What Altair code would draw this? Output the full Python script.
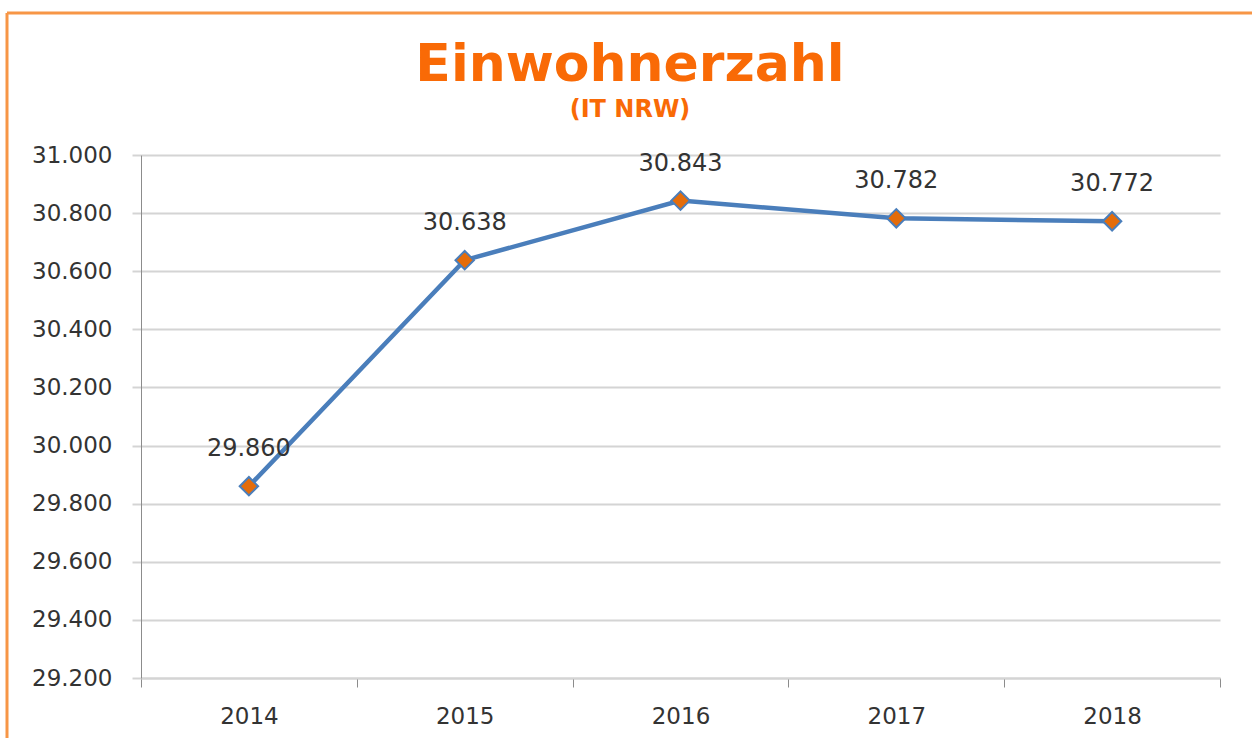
import altair as alt
import pandas as pd

years = ["2014", "2015", "2016", "2017", "2018"]
population = [29860, 30638, 30843, 30782, 30772]
y_ticks = [29200, 29400, 29600, 29800, 30000, 30200, 30400, 30600, 30800, 31000]
title_text = "Einwohnerzahl"
subtitle_text = "(IT NRW)"

df = pd.DataFrame({"Jahr": years, "Einwohner": population})

FONT = "DejaVu Sans"
ORANGE = "#F96A06"
BORDER = "#F79646"

x_enc = alt.X(
    "Jahr:O",
    scale=alt.Scale(type="band", paddingInner=0, paddingOuter=0),
    bandPosition=0.5,
    axis=alt.Axis(
        title=None, labelAngle=0, tickBand="extent", grid=False,
        domainColor="#D4D4D4", domainWidth=2, tickColor="#8C8C8C", tickWidth=1,
        tickSize=9, labelPadding=18, labelFontSize=23, labelFont=FONT,
        labelColor="#333333",
    ),
)
y_enc = alt.Y(
    "Einwohner:Q",
    scale=alt.Scale(domain=[29200, 31000], nice=False, zero=False),
    axis=alt.Axis(
        title=None, values=y_ticks, grid=True, gridColor="#D4D4D4", gridWidth=2,
        domainColor="#8C8C8C", domainWidth=1, tickColor="#D4D4D4", tickWidth=2,
        tickSize=9, labelPadding=20, labelFontSize=23, labelFont=FONT,
        labelColor="#333333",
        labelExpr="replace(format(datum.value, ',.0f'), ',', '.')",
    ),
)

base = alt.Chart(df)

line = base.mark_line(color="#4A7EBB", strokeWidth=4.5).encode(x=x_enc, y=y_enc)
points = base.mark_point(
    shape="diamond", filled=True, fill="#E46C0A", stroke="#4A7EBB",
    strokeWidth=2, size=340, opacity=1,
).encode(x=x_enc, y=y_enc)
labels = base.transform_calculate(
    lab="replace(format(datum.Einwohner, ',.0f'), ',', '.')"
).mark_text(
    font=FONT, fontSize=24, color="#333333", dy=-37, baseline="middle",
).encode(x=x_enc, y=y_enc, text="lab:N")

title_df = pd.DataFrame({"t": [title_text]})
subtitle_df = pd.DataFrame({"t": [subtitle_text]})
title_mark = alt.Chart(title_df).mark_text(
    font=FONT, fontSize=52, fontWeight="bold", color=ORANGE,
    align="center", baseline="alphabetic",
).encode(x=alt.value(489), y=alt.value(-74), text="t:N")
subtitle_mark = alt.Chart(subtitle_df).mark_text(
    font=FONT, fontSize=24, fontWeight="bold", color=ORANGE,
    align="center", baseline="alphabetic",
).encode(x=alt.value(489), y=alt.value(-38), text="t:N")

border_top = alt.Chart(title_df).mark_rule(color=BORDER, strokeWidth=3).encode(
    x=alt.value(-134), x2=alt.value(1120), y=alt.value(-142)
)
border_left = alt.Chart(title_df).mark_rule(color=BORDER, strokeWidth=3).encode(
    x=alt.value(-134), y=alt.value(-142), y2=alt.value(600)
)

chart = alt.layer(
    line, points, labels, title_mark, subtitle_mark, border_top, border_left
).properties(
    width=1079,
    height=523,
    autosize=alt.AutoSizeParams(type="none"),
    padding={"left": 141, "top": 155, "right": 32, "bottom": 60},
    background="white",
).configure_view(stroke=None)

chart.save("out.html", embed_options={"renderer": "svg", "actions": False})
